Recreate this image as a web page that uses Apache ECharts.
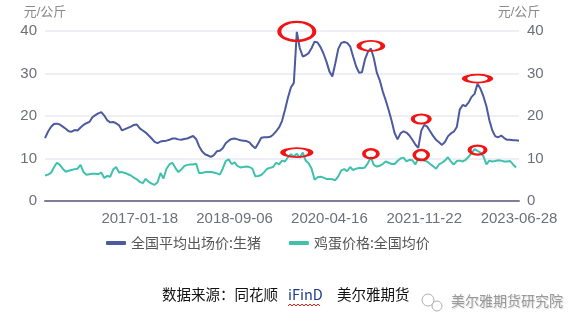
<!DOCTYPE html>
<html><head><meta charset="utf-8">
<script src="https://cdn.jsdelivr.net/npm/echarts@6/dist/echarts.min.js"></script>
<style>html,body{margin:0;padding:0;background:#fff}#c{width:581px;height:330px}</style>
</head><body><div id="c"></div>
<script>
// x-axis tick labels (anchor dates at regular index spacing)
const tickLabels = ['2017-01-18','2018-09-06','2020-04-16','2021-11-22','2023-06-28'];
const seriesNames = ['全国平均出场价:生猪','鸡蛋价格:全国均价'];
const yTicks = [0,10,20,30,40];

const pig = [14.8,16.3,17.4,18.1,18.2,18.0,17.5,17.0,16.4,16.3,
16.7,16.6,17.3,17.9,18.3,18.6,19.7,20.2,20.6,20.9,
20.1,19.0,18.5,18.6,18.3,17.8,16.6,16.9,17.2,17.5,
17.9,18.0,17.1,16.6,16.1,15.4,14.7,13.9,13.6,14.0,
14.1,14.2,14.4,14.7,14.7,14.5,14.4,14.6,14.7,15.0,
15.3,14.6,12.9,11.7,11.0,10.7,10.4,10.8,11.7,11.8,
12.4,13.6,14.2,14.6,14.7,14.5,14.3,14.2,14.1,13.8,
13.0,12.4,13.6,14.9,15.0,15.0,15.1,15.6,16.4,17.3,
18.8,21.4,24.3,26.7,27.8,39.8,36.0,34.0,34.3,34.8,
36.0,37.5,37.3,36.2,34.7,32.8,30.5,29.3,32.4,35.8,
37.2,37.4,37.2,36.4,34.0,31.7,30.2,30.3,33.3,35.1,
35.9,33.6,30.2,28.4,25.8,23.7,21.4,18.9,16.0,14.5,
15.9,16.4,16.1,15.4,14.4,13.3,12.5,16.5,17.9,17.5,
16.4,15.3,14.4,13.8,13.2,13.9,15.2,15.9,16.3,17.4,
21.5,22.6,22.3,23.2,24.5,25.2,27.6,26.4,24.6,22.3,
19.0,16.6,15.2,15.0,15.4,14.8,14.4,14.4,14.3,14.3,14.2];

const egg = [6.0,6.2,6.6,7.9,9.0,8.5,7.6,6.9,7.1,7.3,
7.5,7.6,8.5,6.8,6.2,6.3,6.4,6.4,6.3,6.7,
5.4,5.9,5.7,7.4,8.0,6.7,6.8,6.6,6.3,6.0,
5.5,5.1,4.5,4.2,5.2,4.5,4.1,3.8,4.4,6.6,
5.3,7.6,8.6,9.0,7.8,6.8,7.4,8.2,8.5,8.6,
8.6,8.8,6.6,6.6,6.8,6.8,6.8,6.7,6.5,6.2,
7.6,9.4,9.8,8.7,9.1,8.2,7.9,8.0,8.1,8.0,
7.6,5.8,5.9,6.1,6.8,7.6,7.8,8.0,9.0,8.6,
9.5,9.3,10.3,11.0,10.5,11.1,10.2,11.4,9.5,8.9,
7.6,5.0,5.6,5.7,5.5,5.2,5.2,5.1,4.9,5.8,
7.2,7.5,7.0,8.0,7.3,7.6,7.8,7.7,7.9,8.9,
10.3,8.5,8.1,8.3,8.7,9.3,9.0,8.7,8.7,9.4,
10.0,10.2,9.3,9.7,9.6,8.6,10.0,9.8,9.5,9.3,
8.7,8.2,7.6,8.6,9.0,9.5,10.3,9.3,8.6,9.4,
9.5,9.3,9.7,10.4,11.3,12.2,11.8,11.4,10.5,8.6,
9.5,9.3,9.4,9.6,9.5,9.3,9.3,9.4,8.6,7.9];

// highlighted points (category index, value) drawn as red ellipses
const pigMarks = [[85,39.9,38,22],[110,36.5,27,13],[127,19.3,20,12],[146,28.8,29,11]];
const eggMarks = [[85,11.4,31,12],[110,11.1,17,12],[127,10.8,17,13],[146,12.0,19,12]];

// build date categories: anchors every 32 points, last point = last anchor
const N = pig.length, STEP = 32;
const anchorIdx = tickLabels.map((_, k) => N - 1 - (tickLabels.length - 1 - k) * STEP);
const toMs = s => Date.parse(s + 'T00:00:00Z');
function fmt(ms){const d=new Date(ms);return d.toISOString().slice(0,10);}
const cats = [];
for (let i = 0; i < N; i++) {
  let k = 0;
  while (k < anchorIdx.length - 2 && i > anchorIdx[k + 1]) k++;
  const a = toMs(tickLabels[k]), b = toMs(tickLabels[k + 1]);
  const per = (b - a) / STEP;
  cats.push(fmt(a + (i - anchorIdx[k]) * per));
}
anchorIdx.forEach((ix, k) => cats[ix] = tickLabels[k]);
const labelSet = new Set(tickLabels);

const ELL = 'path://M0,10 A20,10 0 1 1 40,10 A20,10 0 1 1 0,10 Z';
const mk = arr => ({
  symbol: ELL, silent: true, label: {show: false},
  itemStyle: {color: 'rgba(0,0,0,0)', borderColor: '#f01414', borderWidth: 3},
  data: arr.map(m => ({coord: [cats[m[0]], m[1]], symbolSize: [m[2] - 3, m[3] - 3]}))
});

const FONT = 'Liberation Sans, Noto Sans CJK SC, sans-serif';
const chart = echarts.init(document.getElementById('c'), null, {renderer: 'canvas'});
const yBase = {
  type: 'value', min: yTicks[0], max: yTicks[yTicks.length - 1], interval: 10,
  name: '元/公斤', nameLocation: 'end', nameGap: 12,
  nameTextStyle: {color: '#8a8a8a', fontSize: 13, fontFamily: FONT},
  axisLine: {show: false}, axisTick: {show: false},
  axisLabel: {color: '#6e7079', fontSize: 15, fontFamily: FONT, margin: 8}
};
chart.setOption({
  animation: false,
  backgroundColor: '#fff',
  grid: {left: 45, right: 62, top: 31, bottom: 129, containLabel: false},
  legend: {
    left: 101, top: 231, itemGap: 28, itemWidth: 20, itemHeight: 4,
    icon: 'roundRect',
    textStyle: {color: '#555', fontSize: 14, fontFamily: 'Noto Sans CJK SC, sans-serif'},
    data: seriesNames
  },
  xAxis: {
    type: 'category', data: cats, boundaryGap: false,
    axisLine: {lineStyle: {color: '#7d7f9a', width: 2}},
    axisTick: {show: false},
    axisLabel: {
      color: '#6e7079', fontSize: 15, fontFamily: FONT, margin: 10,
      interval: (i, v) => labelSet.has(v), hideOverlap: false
    },
    splitLine: {show: false}
  },
  yAxis: [
    Object.assign({}, yBase, {position: 'left',
      splitLine: {lineStyle: {color: '#e8e9f3', width: 1.5}}}),
    Object.assign({}, yBase, {position: 'right', splitLine: {show: false}})
  ],
  series: [
    {name: seriesNames[0], type: 'line', data: pig, yAxisIndex: 0, showSymbol: false,
     symbol: 'none', lineStyle: {color: '#4c5a9e', width: 2}, itemStyle: {color: '#4c5a9e'},
     markPoint: mk(pigMarks), z: 3},
    {name: seriesNames[1], type: 'line', data: egg, yAxisIndex: 0, showSymbol: false,
     symbol: 'none', lineStyle: {color: '#3fc1ae', width: 2}, itemStyle: {color: '#3fc1ae'},
     markPoint: mk(eggMarks), z: 2}
  ],
  graphic: [
    {type: 'text', left: 162, top: 287, style: {text: '数据来源：同花顺', fill: '#111', font: '14.5px "Noto Sans CJK SC"'}},
    {type: 'text', left: 288, top: 287, style: {text: 'iFinD', fill: '#1c3c8c', font: '14.5px "Noto Sans CJK SC"'}},
    {type: 'polyline', shape: {points: [[288,306],[290,304],[292,306],[294,304],[296,306],[298,304],[300,306],[302,304],[304,306],[306,304],[308,306],[310,304],[312,306],[314,304],[316,306],[318,304],[320,306]]},
     style: {stroke: '#e02020', lineWidth: 1, fill: null}},
    {type: 'text', left: 337, top: 287, style: {text: '美尔雅期货', fill: '#111', font: '14.5px "Noto Sans CJK SC"'}},
    {type: 'circle', shape: {cx: 428, cy: 300, r: 6}, style: {stroke: '#b0b0b0', lineWidth: 1, fill: 'rgba(0,0,0,0)'}},
    {type: 'circle', shape: {cx: 437, cy: 306, r: 5}, style: {stroke: '#b0b0b0', lineWidth: 1, fill: '#fff'}},
    {type: 'text', left: 451, top: 294, style: {text: '美尔雅期货研究院', fill: '#9a9a9a', font: '14px "Noto Sans CJK SC"',
      textShadowColor: 'rgba(0,0,0,0.15)', textShadowBlur: 1, textShadowOffsetX: 1, textShadowOffsetY: 1}}
  ]
});
</script></body></html>
